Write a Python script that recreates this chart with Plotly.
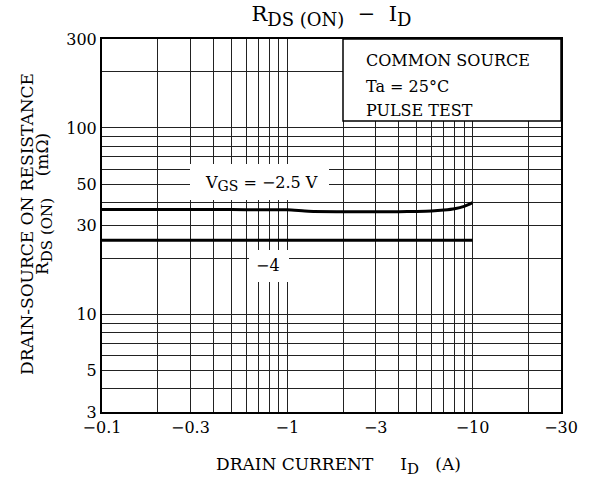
import plotly.graph_objects as go

# ---- data ----
id_vgs25 = [0.1, 0.3, 0.5, 1, 1.3, 2, 4, 5, 6, 7, 8, 9, 10]
r_vgs25 = [36.6, 36.6, 36.5, 36.4, 35.8, 35.6, 35.6, 35.7, 35.9, 36.3, 36.9, 38.0, 39.8]
id_vgs4 = [0.1, 1, 10]
r_vgs4 = [25.0, 25.0, 25.0]

x_grid = [0.1, 0.2, 0.3, 0.4, 0.5, 0.6, 0.7, 0.8, 0.9,
          1, 2, 3, 4, 5, 6, 7, 8, 9, 10, 20, 30]
x_labels = {0.1: "\u22120.1", 0.3: "\u22120.3", 1: "\u22121", 3: "\u22123", 10: "\u221210", 30: "\u221230"}
y_grid = [3, 4, 5, 6, 7, 8, 9, 10, 20, 30, 40, 50, 60, 70, 80, 90, 100, 200, 300]
y_labels = {3: "3", 5: "5", 10: "10", 30: "30", 50: "50", 100: "100", 300: "300"}

FONT = "DejaVu Serif"


def sub(t, size):
    return "<sub><span style='font-size:%dpx'>%s</span></sub>" % (size, t)


fig = go.Figure()
fig.add_trace(go.Scatter(x=id_vgs25, y=r_vgs25, mode="lines",
                         line=dict(color="black", width=3, shape="spline", smoothing=0.6),
                         showlegend=False, hoverinfo="skip"))
fig.add_trace(go.Scatter(x=id_vgs4, y=r_vgs4, mode="lines",
                         line=dict(color="black", width=3),
                         showlegend=False, hoverinfo="skip"))

fig.update_xaxes(type="log", range=[-1, 1.4771212547],
                 tickvals=x_grid, ticktext=[x_labels.get(v, "") for v in x_grid],
                 showgrid=True, gridcolor="#222", gridwidth=1,
                 showline=True, mirror=True, linecolor="black", linewidth=2,
                 ticks="", zeroline=False,
                 tickfont=dict(family=FONT, size=16, color="black"))
fig.update_yaxes(type="log", range=[0.4771212547, 2.4771212547],
                 tickvals=y_grid, ticktext=[y_labels.get(v, "") for v in y_grid],
                 showgrid=True, gridcolor="#222", gridwidth=1,
                 showline=True, mirror=True, linecolor="black", linewidth=2,
                 ticks="", zeroline=False,
                 tickfont=dict(family=FONT, size=16, color="black"))

W, H = 589, 484
L, R, T, B = 102, 28, 39, 72
pw, ph = W - L - R, H - T - B


def px(xp):
    return (xp - L) / pw


def py(yp):
    return (H - B - yp) / ph


shapes = [
    # condition box
    dict(type="rect", xref="paper", yref="paper", x0=px(343), x1=1.0, y0=py(121), y1=1.0,
         fillcolor="white", line=dict(color="black", width=1.5), layer="above"),
    # white backgrounds behind curve labels
    dict(type="rect", xref="paper", yref="paper", x0=px(190), x1=px(329), y0=py(200), y1=py(164),
         fillcolor="white", line=dict(width=0), layer="above"),
    dict(type="rect", xref="paper", yref="paper", x0=px(249), x1=px(289), y0=py(282), y1=py(250),
         fillcolor="white", line=dict(width=0), layer="above"),
]

ann = [
    dict(text="COMMON SOURCE", x=px(364), y=py(60), xanchor="left", yanchor="middle"),
    dict(text="Ta = 25\u00b0C", x=px(364), y=py(86), xanchor="left", yanchor="middle"),
    dict(text="PULSE TEST", x=px(364), y=py(110), xanchor="left", yanchor="middle"),
    dict(text="V" + sub("GS", 14) + " = \u22122.5 V", x=px(261), y=py(183), xanchor="center", yanchor="middle"),
    dict(text="\u22124", x=px(268), y=py(265), xanchor="center", yanchor="middle"),
    dict(text="DRAIN CURRENT\u00a0\u00a0\u00a0\u00a0\u00a0I" + sub("D", 15) + "\u00a0\u00a0\u00a0(A)", x=px(338), y=py(466),
         xanchor="center", yanchor="middle", font=dict(family=FONT, size=17, color="black")),
    dict(text="DRAIN-SOURCE ON RESISTANCE", x=px(27), y=py(224), textangle=-90,
         xanchor="center", yanchor="middle", font=dict(family=FONT, size=17, color="black")),
    dict(text="R" + sub("DS (ON)", 15) + "\u00a0\u00a0\u00a0\u00a0(m\u03a9)", x=px(44), y=py(204), textangle=-90,
         xanchor="center", yanchor="middle", font=dict(family=FONT, size=17, color="black")),
]
annotations = []
for a in ann:
    base = dict(xref="paper", yref="paper", showarrow=False,
                font=dict(family=FONT, size=16, color="black"))
    base.update(a)
    annotations.append(base)

fig.update_layout(
    width=W, height=H,
    margin=dict(l=L, r=R, t=T, b=B, autoexpand=False),
    paper_bgcolor="white", plot_bgcolor="white",
    title=dict(text="R" + sub("DS (ON)", 18) + "\u00a0\u00a0\u2212\u00a0\u00a0I" + sub("D", 18), x=0.5, xref="paper",
               y=1 - 14 / H, yref="container", xanchor="center", yanchor="middle",
               font=dict(family=FONT, size=21, color="black")),
    shapes=shapes, annotations=annotations,
    font=dict(family=FONT, color="black"),
)

fig.write_html("out.html", config={"displayModeBar": False},
               post_script="document.body.style.margin='0';")
